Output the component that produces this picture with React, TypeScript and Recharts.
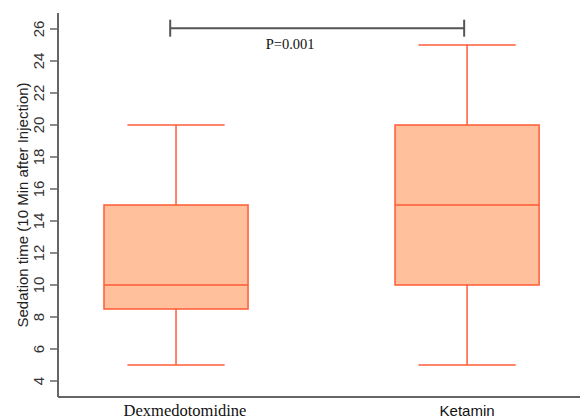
import { ComposedChart, XAxis, YAxis, ReferenceArea, ReferenceLine, ReferenceDot, Scatter } from 'recharts'

const CATEGORIES = ['Dexmedotomidine', 'Ketamin']
const MIN = [5, 5]
const Q1 = [8.5, 10]
const MEDIAN = [10, 15]
const Q3 = [15, 20]
const MAX = [20, 25]
const Y_TICKS = [4, 6, 8, 10, 12, 14, 16, 18, 20, 22, 24, 26]
const P_LABEL = 'P=0.001'
const P_BRACKET = [0.98, 1.99]
const P_LEVEL = 26.05

const FILL = '#FFC09B'
const EDGE = '#FF5B36'
const AXIS = '#666'
const SANS = '"Liberation Sans", Arial, sans-serif'
const SERIF = '"Liberation Serif", "Times New Roman", serif'

const BOX_HALF = 0.2475
const CAP_HALF = 0.167

const data = CATEGORIES.map((name, i) => ({
  x: i + 1,
  name,
  min: MIN[i],
  q1: Q1[i],
  median: MEDIAN[i],
  q3: Q3[i],
  max: MAX[i],
}))

function YTick({ x, y, payload }: any) {
  return (
    <g transform={`translate(${x - 10},${y}) rotate(-90)`}>
      <text textAnchor="middle" dy={5.5} fontSize={15} fontFamily={SANS} fill="#333">
        {payload.value}
      </text>
    </g>
  )
}

function XTick({ x, y, payload }: any) {
  const name = CATEGORIES[payload.value - 1]
  const serif = payload.value === 1
  return (
    <text
      x={serif ? x + 9 : x}
      y={y + 11}
      textAnchor="middle"
      fontSize={serif ? 16.5 : 15}
      fontFamily={serif ? SERIF : SANS}
      fill="#111"
    >
      {name}
    </text>
  )
}

function YLabel({ viewBox }: any) {
  const cy = viewBox.y + viewBox.height / 2
  return (
    <g transform={`translate(22,${cy}) rotate(-90)`}>
      <text textAnchor="middle" dy={5.5} fontSize={15} fontFamily={SANS} fill="#222">
        Sedation time (10 Min after Injection)
      </text>
    </g>
  )
}

export default function App() {
  return (
    <div style={{ position: 'absolute', left: 0, top: 0, background: '#fff' }}>
      <ComposedChart width={580} height={420} data={data} margin={{ top: 13, right: 0, bottom: 0, left: 0 }}>
        <XAxis
          type="number"
          dataKey="x"
          domain={[0.5945, 2.388]}
          ticks={[1, 2]}
          allowDataOverflow
          tickLine={false}
          axisLine={{ stroke: AXIS, strokeWidth: 2 }}
          height={23}
          tick={<XTick />}
        />
        <YAxis
          type="number"
          domain={[3, 27]}
          ticks={Y_TICKS}
          allowDataOverflow
          width={58}
          tickSize={8}
          tickLine={{ stroke: AXIS, strokeWidth: 1.5 }}
          axisLine={{ stroke: AXIS, strokeWidth: 2 }}
          tick={<YTick />}
          label={<YLabel />}
        />
        {data.map((d) => (
          <ReferenceArea
            key={`box-${d.x}`}
            x1={d.x - BOX_HALF}
            x2={d.x + BOX_HALF}
            y1={d.q1}
            y2={d.q3}
            fill={FILL}
            fillOpacity={1}
            stroke={EDGE}
            strokeWidth={1.5}
          />
        ))}
        {data.map((d) => (
          <ReferenceLine
            key={`wu-${d.x}`}
            segment={[{ x: d.x, y: d.q3 }, { x: d.x, y: d.max }]}
            stroke={EDGE}
            strokeWidth={1.5}
          />
        ))}
        {data.map((d) => (
          <ReferenceLine
            key={`wl-${d.x}`}
            segment={[{ x: d.x, y: d.min }, { x: d.x, y: d.q1 }]}
            stroke={EDGE}
            strokeWidth={1.5}
          />
        ))}
        {data.map((d) => (
          <ReferenceLine
            key={`cmin-${d.x}`}
            segment={[{ x: d.x - CAP_HALF, y: d.min }, { x: d.x + CAP_HALF, y: d.min }]}
            stroke={EDGE}
            strokeWidth={1.5}
          />
        ))}
        {data.map((d) => (
          <ReferenceLine
            key={`cmax-${d.x}`}
            segment={[{ x: d.x - CAP_HALF, y: d.max }, { x: d.x + CAP_HALF, y: d.max }]}
            stroke={EDGE}
            strokeWidth={1.5}
          />
        ))}
        {data.map((d) => (
          <ReferenceLine
            key={`med-${d.x}`}
            segment={[{ x: d.x - BOX_HALF, y: d.median }, { x: d.x + BOX_HALF, y: d.median }]}
            stroke={EDGE}
            strokeWidth={1.5}
          />
        ))}
        <ReferenceLine
          segment={[{ x: P_BRACKET[0], y: P_LEVEL }, { x: P_BRACKET[1], y: P_LEVEL }]}
          stroke="#555"
          strokeWidth={2}
        />
        {P_BRACKET.map((px) => (
          <ReferenceLine
            key={`pt-${px}`}
            segment={[{ x: px, y: P_LEVEL - 0.53 }, { x: px, y: P_LEVEL + 0.53 }]}
            stroke="#555"
            strokeWidth={2}
          />
        ))}
        <ReferenceDot
          x={1.392}
          y={25.06}
          r={0}
          stroke="none"
          label={{ value: P_LABEL, position: 'center', fontSize: 14.5, fontFamily: SERIF, fill: '#111' }}
        />
        <Scatter dataKey="median" fill="none" shape={() => null} isAnimationActive={false} />
      </ComposedChart>
    </div>
  )
}
